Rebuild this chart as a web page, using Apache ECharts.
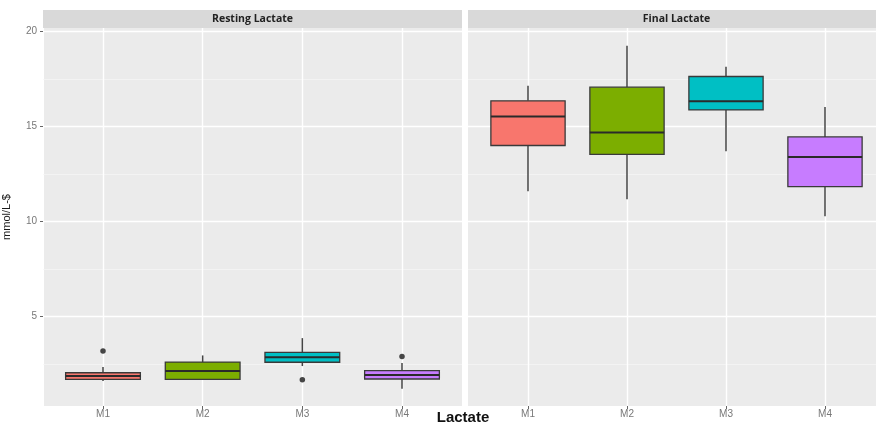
<!DOCTYPE html>
<html>
<head>
<meta charset="utf-8">
<script src="https://cdn.jsdelivr.net/npm/echarts@6/dist/echarts.min.js"></script>
<style>html,body{margin:0;padding:0;background:#fff;}#c{width:876px;height:426px;}</style>
</head>
<body>
<div id="c"></div>
<script>
const categories = ['M1', 'M2', 'M3', 'M4'];
const panelTitles = ['Resting Lactate', 'Final Lactate'];
const yTickValues = [5, 10, 15, 20];
const boxColors = ['#F8766D', '#7CAE00', '#00BFC4', '#C77CFF'];

// Resting lactate (whisker low, Q1, median, Q3, whisker high)
const restingLow    = [1.63, 1.70, 2.42, 1.23];
const restingQ1     = [1.72, 1.72, 2.62, 1.74];
const restingMedian = [1.90, 2.16, 2.89, 1.95];
const restingQ3     = [2.07, 2.63, 3.14, 2.18];
const restingHigh   = [2.37, 2.98, 3.89, 2.58];
const restingOutliers = [['M1', 3.21], ['M3', 1.70], ['M4', 2.92]];

// Final lactate
const finalLow    = [11.62, 11.19, 13.72, 10.30];
const finalQ1     = [14.02, 13.55, 15.89, 11.86];
const finalMedian = [15.55, 14.70, 16.35, 13.41];
const finalQ3     = [16.37, 17.09, 17.65, 14.47];
const finalHigh   = [17.16, 19.26, 18.16, 16.05];
const finalOutliers = [];

function boxData(lo, q1, md, q3, hi) {
  return categories.map((c, i) => [i, lo[i], q1[i], md[i], q3[i], hi[i]]);
}

function renderBox(params, api) {
  const x = api.value(0);
  const lo = api.coord([x, api.value(1)]);
  const q1 = api.coord([x, api.value(2)]);
  const md = api.coord([x, api.value(3)]);
  const q3 = api.coord([x, api.value(4)]);
  const hi = api.coord([x, api.value(5)]);
  const w = api.size([1, 0])[0] * 0.75;
  const cx = lo[0];
  const color = boxColors[params.dataIndex];
  const lineStyle = { stroke: '#444', lineWidth: 1.5 };
  return {
    type: 'group',
    children: [
      { type: 'line', shape: { x1: cx, y1: hi[1], x2: cx, y2: q3[1] }, style: lineStyle },
      { type: 'line', shape: { x1: cx, y1: q1[1], x2: cx, y2: lo[1] }, style: lineStyle },
      { type: 'rect', shape: { x: cx - w / 2, y: q3[1], width: w, height: q1[1] - q3[1] },
        style: { fill: color, stroke: '#3a3a3a', lineWidth: 1.3 } },
      { type: 'line', shape: { x1: cx - w / 2, y1: md[1], x2: cx + w / 2, y2: md[1] },
        style: { stroke: '#2a2a2a', lineWidth: 2 } }
    ]
  };
}

const FONT = 'Liberation Sans';
const panels = [
  { bgLeft: 43, bgWidth: 419, dataLeft: 103, dataWidth: 299, labels: true },
  { bgLeft: 468, bgWidth: 417, dataLeft: 528, dataWidth: 297, labels: false }
];

const grid = [], xAxis = [], yAxis = [];
panels.forEach((p, k) => {
  const base = k * 3;
  grid.push({ left: p.bgLeft, top: 28, width: p.bgWidth, height: 378, show: true,
    backgroundColor: '#EBEBEB', borderWidth: 0 });
  grid.push({ left: p.bgLeft, top: 31.7, width: p.bgWidth, height: 380 });
  grid.push({ left: p.dataLeft, top: 28, width: p.dataWidth, height: 378 });

  xAxis.push({ gridIndex: base, type: 'value', show: false, min: 0, max: 1 });
  xAxis.push({ gridIndex: base + 1, type: 'value', show: false, min: 0, max: 1 });
  xAxis.push({
    gridIndex: base + 2, type: 'category', data: categories, boundaryGap: false,
    axisLine: { show: false },
    axisTick: { show: true, length: 3, lineStyle: { color: '#666', width: 1 } },
    axisLabel: { interval: 0, margin: 3, fontSize: 10, color: '#777', fontFamily: FONT },
    splitLine: { show: true, lineStyle: { color: '#FFFFFF', width: 1.4 } }
  });

  yAxis.push({
    gridIndex: base, type: 'value', min: 0, max: 1,
    axisLine: { show: false }, axisTick: { show: false }, axisLabel: { show: false },
    splitLine: { show: false },
    name: p.labels ? 'mmol/L-$' : '', nameLocation: 'middle', nameGap: 32, nameRotate: 90,
    nameTextStyle: { fontSize: 11, color: '#1a1a1a', fontFamily: FONT }
  });
  yAxis.push({
    gridIndex: base + 1, type: 'value', min: 0, max: 20, interval: 5,
    axisLine: { show: false },
    axisTick: { show: p.labels, length: 3, customValues: yTickValues, lineStyle: { color: '#666' } },
    axisLabel: { show: p.labels, customValues: yTickValues, margin: 6, fontSize: 10, color: '#777',
      fontFamily: FONT, formatter: v => (v === 0 ? '' : String(v)) },
    splitLine: { show: true, lineStyle: { color: '#FFFFFF', width: 1.4 } },
    minorTick: { show: false, splitNumber: 2 },
    minorSplitLine: { show: true, lineStyle: { color: '#F7F7F7', width: 0.7 } }
  });
  yAxis.push({ gridIndex: base + 2, type: 'value', min: 0.32, max: 20.2, show: false });
});

const series = [
  { type: 'custom', xAxisIndex: 2, yAxisIndex: 2, renderItem: renderBox,
    encode: { x: 0, y: [1, 2, 3, 4, 5] },
    data: boxData(restingLow, restingQ1, restingMedian, restingQ3, restingHigh), z: 3 },
  { type: 'scatter', xAxisIndex: 2, yAxisIndex: 2, data: restingOutliers,
    symbolSize: 5.5, itemStyle: { color: '#1a1a1a' }, z: 4 },
  { type: 'custom', xAxisIndex: 5, yAxisIndex: 5, renderItem: renderBox,
    encode: { x: 0, y: [1, 2, 3, 4, 5] },
    data: boxData(finalLow, finalQ1, finalMedian, finalQ3, finalHigh), z: 3 },
  { type: 'scatter', xAxisIndex: 5, yAxisIndex: 5, data: finalOutliers,
    symbolSize: 5.5, itemStyle: { color: '#1a1a1a' }, z: 4 }
];

const graphic = [];
panels.forEach((p, k) => {
  graphic.push({ type: 'rect', left: p.bgLeft, top: 10, shape: { width: p.bgWidth, height: 18 },
    style: { fill: '#D9D9D9' }, silent: true });
  graphic.push({ type: 'text', x: p.bgLeft + p.bgWidth / 2, y: 19,
    style: { text: panelTitles[k], align: 'center', verticalAlign: 'middle',
      font: 'bold 10.5px "Open Sans"', fill: '#222' }, silent: true });
});
graphic.push({ type: 'text', x: 463, y: 418,
  style: { text: 'Lactate', align: 'center', verticalAlign: 'middle',
    font: 'bold 15px "Liberation Sans"', fill: '#111' }, silent: true });

const chart = echarts.init(document.getElementById('c'), null, { renderer: 'canvas' });
chart.setOption({
  animation: false,
  backgroundColor: '#FFFFFF',
  grid, xAxis, yAxis, series, graphic
});
</script>
</body>
</html>
